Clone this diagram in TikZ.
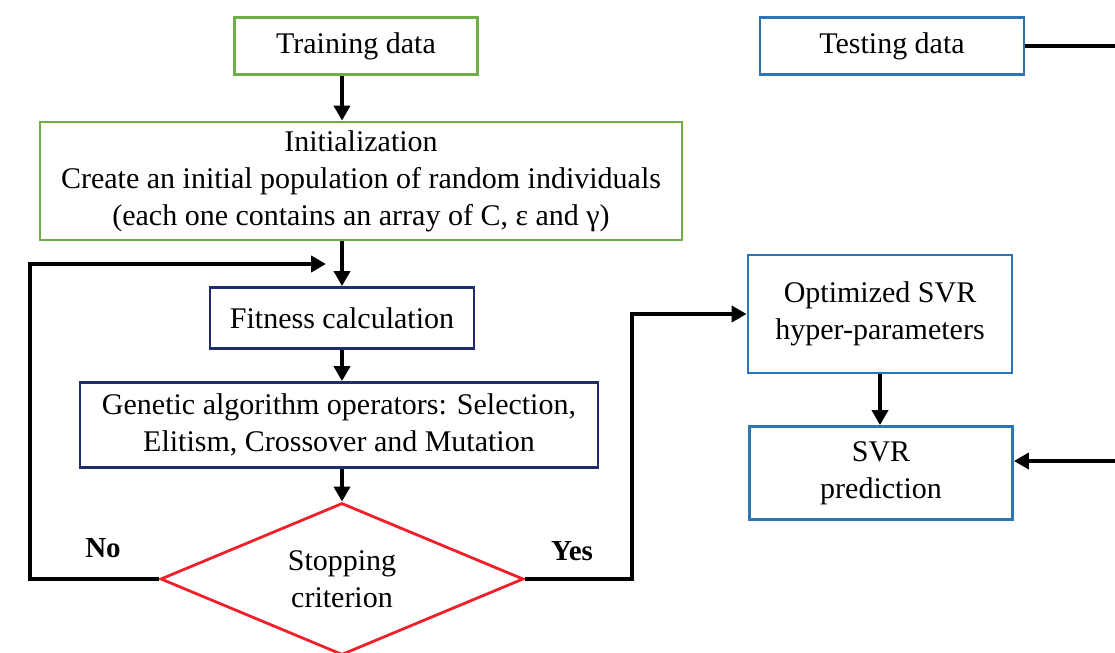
\documentclass[tikz,border=0pt]{standalone}
\usepackage{fontspec}
\setmainfont{Liberation Serif}
\usetikzlibrary{shapes.geometric, arrows.meta}
\definecolor{gagreen}{HTML}{70AD47}
\definecolor{svrblue}{HTML}{2E75B6}
\definecolor{ganavy}{HTML}{1F2D6E}
\definecolor{stopred}{HTML}{F0202A}

\begin{document}
\begin{tikzpicture}[
  x=0.5pt, y=-0.5pt,
  box/.style={draw, line width=1.4pt, align=center, inner sep=2pt,
              font=\fontsize{15}{18.5}\selectfont},
  green box/.style={box, draw=gagreen},
  blue box/.style={box, draw=svrblue},
  navy box/.style={box, draw=ganavy},
  decision/.style={diamond, draw=stopred, line width=1.4pt, align=center,
              inner sep=0pt, aspect=2.4, font=\fontsize{15}{18.5}\selectfont},
  line/.style={line width=2.3pt},
  arr/.style={line, -{Triangle[length=7.5pt, width=8pt]}},
  lbl/.style={font=\fontsize{14.5}{16}\selectfont\bfseries}]
\useasboundingbox (0,0) rectangle (1115,653);
% left column: genetic algorithm
\node[green box, minimum width=121.5pt, minimum height=28.5pt] (train) at (356,46) {Training data};
\node[green box, minimum width=321pt, minimum height=59pt] (init) at (361,181)
  {Initialization\\ Create an initial population of random individuals\\ (each one contains an array of C, ε and γ)};
\node[navy box, minimum width=132pt, minimum height=30.5pt] (fit) at (342,318) {Fitness calculation};
\node[navy box, minimum width=259pt, minimum height=42.5pt] (gaop) at (339,425)
  {Genetic algorithm operators: Selection,\\ Elitism, Crossover and Mutation};
\node[decision, minimum width=181.5pt, minimum height=76pt] (stop) at (342,579) {Stopping\\ criterion};
% right column: SVR
\node[blue box, minimum width=132pt, minimum height=28.5pt] (test) at (892,46) {Testing data};
\node[blue box, minimum width=132pt, minimum height=59pt] (opt) at (880,314)
  {Optimized SVR\\ hyper-parameters};
\node[blue box, minimum width=131.5pt, minimum height=46.5pt] (pred) at (881,473)
  {SVR\\ prediction};
\coordinate (loopin) at (342,264);
\coordinate (noturn) at (30,579);
\coordinate (yesturn) at (632,579);
\coordinate (edge) at (1130,46);
% labels
\node[lbl] (no) at (103,548) {No};
\node[lbl] (yes) at (572,551) {Yes};
% connectors
\draw[arr] (train.south -| fit) -- (init.north -| fit);
\draw[arr] (init.south -| fit) -- (fit.north);
\draw[arr] (fit.south) -- (gaop.north -| fit);
\draw[arr] (gaop.south -| fit) -- (stop.north);
\draw[arr, shorten >=8pt] (stop.west) -- (noturn) |- (loopin);
\draw[arr] (stop.east) -- (yesturn) |- (opt.west);
\draw[arr] (opt.south) -- (pred.north -| opt);
\draw[arr] (test.east) -- (edge) |- ([yshift=6pt]pred.east);
\end{tikzpicture}
\end{document}
